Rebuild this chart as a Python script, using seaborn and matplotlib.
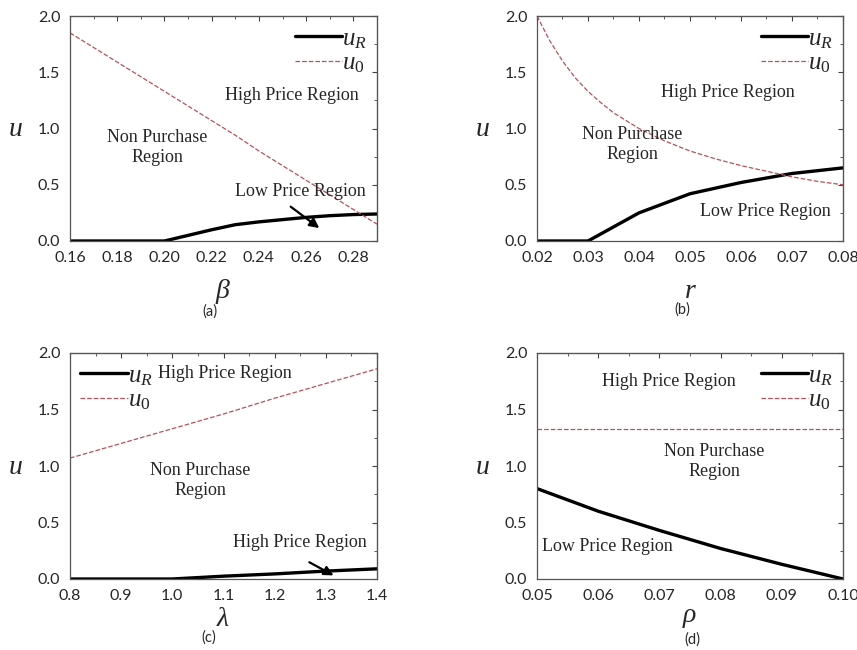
import numpy as np
import seaborn as sns
import matplotlib.pyplot as plt

# panel (a): beta
beta = [0.16, 0.17, 0.18, 0.19, 0.20, 0.21, 0.22, 0.23, 0.24, 0.25, 0.26, 0.27, 0.28, 0.29]
uR_a = [0.0, 0.0, 0.0, 0.0, 0.0, 0.05, 0.10, 0.145, 0.17, 0.19, 0.21, 0.225, 0.235, 0.24]
u0_a = [1.85, 1.72, 1.59, 1.46, 1.33, 1.20, 1.07, 0.94, 0.80, 0.67, 0.54, 0.41, 0.28, 0.15]

# panel (b): r
r = [0.02, 0.03, 0.04, 0.05, 0.06, 0.07, 0.08]
uR_b = [0.0, 0.0, 0.25, 0.42, 0.52, 0.60, 0.65]
r_fine = [0.02, 0.0225, 0.025, 0.0275, 0.03, 0.0325, 0.035, 0.0375, 0.04, 0.045,
          0.05, 0.055, 0.06, 0.065, 0.07, 0.075, 0.08]
u0_b = [2.0, 1.78, 1.6, 1.45, 1.33, 1.23, 1.14, 1.07, 1.0, 0.89,
        0.80, 0.73, 0.67, 0.62, 0.57, 0.53, 0.50]

# panel (c): lambda
lam = [0.8, 0.9, 1.0, 1.1, 1.2, 1.3, 1.4]
uR_c = [0.0, 0.0, 0.0, 0.025, 0.045, 0.07, 0.09]
u0_c = [1.07, 1.20, 1.33, 1.46, 1.60, 1.73, 1.86]

# panel (d): rho
rho = [0.05, 0.06, 0.07, 0.08, 0.09, 0.10]
uR_d = [0.80, 0.60, 0.43, 0.27, 0.13, 0.0]
u0_d = [1.33, 1.33, 1.33, 1.33, 1.33, 1.33]

sns.set_style("white")
plt.rcParams['mathtext.fontset'] = 'custom'
plt.rcParams['mathtext.rm'] = 'Liberation Serif'
plt.rcParams['mathtext.it'] = 'Liberation Serif:italic'
plt.rcParams['font.family'] = ['Lato', 'DejaVu Sans']

red = '#b5525a'
serif = 'Liberation Serif'

fig = plt.figure(figsize=(8.57, 6.5), dpi=100)
W, H = 857, 650
boxes = {
    'a': (70, 16, 377, 241),
    'b': (537, 16, 843, 241),
    'c': (70, 353, 377, 579),
    'd': (537, 353, 843, 579),
}
tags = {'a': (210, 312), 'b': (682, 310), 'c': (209, 638), 'd': (692, 640)}
xlabel_pad = {'a': 9, 'b': 9, 'c': 2, 'd': 1}


def make_ax(key):
    x0, y0, x1, y1 = boxes[key]
    return fig.add_axes([x0 / W, 1 - y1 / H, (x1 - x0) / W, (y1 - y0) / H])


def style(ax, key, xlim, xticks, xlabel, legend_loc):
    ax.set_xlim(*xlim)
    ax.set_ylim(0, 2.0)
    ax.set_xticks(xticks)
    ax.set_yticks([0, 0.5, 1.0, 1.5, 2.0])
    ax.set_yticklabels(['0.0', '0.5', '1.0', '1.5', '2.0'])
    minor = (xticks[1] - xticks[0]) / 2
    ax.xaxis.set_minor_locator(plt.MultipleLocator(minor))
    ax.yaxis.set_minor_locator(plt.MultipleLocator(0.25))
    ax.tick_params(which='both', direction='out', labelsize=11.5, color='#444', pad=3)
    ax.tick_params(which='major', length=4)
    ax.tick_params(which='minor', length=2)
    for s in ax.spines.values():
        s.set_color('#555')
        s.set_linewidth(0.9)
    top = ax.secondary_xaxis('top')
    top.set_xticks(xticks)
    top.xaxis.set_minor_locator(plt.MultipleLocator(minor))
    top.tick_params(which='both', direction='in', labeltop=False, color='#444')
    top.tick_params(which='minor', length=2)
    right = ax.secondary_yaxis('right')
    right.set_yticks([0, 0.5, 1.0, 1.5, 2.0])
    right.yaxis.set_minor_locator(plt.MultipleLocator(0.25))
    right.tick_params(which='both', direction='in', labelright=False, color='#444')
    right.tick_params(which='minor', length=2)
    ax.set_xlabel(xlabel, fontsize=20, labelpad=xlabel_pad[key])
    ax.set_ylabel('$u$', fontsize=20, rotation=0, labelpad=16, va='center')
    tx, ty = tags[key]
    fig.text(tx / W, 1 - ty / H, '(' + key + ')', ha='center', va='center', fontsize=10.5)
    ax.legend(loc=legend_loc, frameon=False, fontsize=18, handlelength=1.9,
              handletextpad=0.0, borderaxespad=0.0, labelspacing=0.0)


def region(ax, x, y, txt):
    ax.text(x, y, txt, ha='center', va='center', fontsize=13, family=serif, linespacing=1.25)


# (a)
ax = make_ax('a')
sns.lineplot(x=beta, y=uR_a, ax=ax, color='black', lw=2.4, label='$u_R$')
sns.lineplot(x=beta, y=u0_a, ax=ax, color=red, lw=0.9, ls='--', label='$u_0$')
style(ax, 'a', (0.16, 0.29), [0.16, 0.18, 0.20, 0.22, 0.24, 0.26, 0.28], r'$\beta$', 'upper right')
region(ax, 0.254, 1.29, 'High Price Region')
region(ax, 0.197, 0.83, 'Non Purchase\nRegion')
region(ax, 0.2575, 0.44, 'Low Price Region')
ax.annotate('', xy=(0.2665, 0.10), xytext=(0.2525, 0.32),
            arrowprops=dict(arrowstyle='-|>', color='black', lw=1.6, mutation_scale=14))

# (b)
ax = make_ax('b')
sns.lineplot(x=r, y=uR_b, ax=ax, color='black', lw=2.4, label='$u_R$')
sns.lineplot(x=r_fine, y=u0_b, ax=ax, color=red, lw=0.9, ls='--', label='$u_0$')
style(ax, 'b', (0.02, 0.08), [0.02, 0.03, 0.04, 0.05, 0.06, 0.07, 0.08], '$r$', 'upper right')
region(ax, 0.0575, 1.32, 'High Price Region')
region(ax, 0.0387, 0.86, 'Non Purchase\nRegion')
region(ax, 0.0647, 0.26, 'Low Price Region')

# (c)
ax = make_ax('c')
sns.lineplot(x=lam, y=uR_c, ax=ax, color='black', lw=2.4, label='$u_R$')
sns.lineplot(x=lam, y=u0_c, ax=ax, color=red, lw=0.9, ls='--', label='$u_0$')
style(ax, 'c', (0.8, 1.4), [0.8, 0.9, 1.0, 1.1, 1.2, 1.3, 1.4], r'$\lambda$', 'upper left')
region(ax, 1.103, 1.82, 'High Price Region')
region(ax, 1.055, 0.87, 'Non Purchase\nRegion')
region(ax, 1.25, 0.32, 'High Price Region')
ax.annotate('', xy=(1.32, 0.02), xytext=(1.263, 0.16),
            arrowprops=dict(arrowstyle='-|>', color='black', lw=1.6, mutation_scale=14))

# (d)
ax = make_ax('d')
sns.lineplot(x=rho, y=uR_d, ax=ax, color='black', lw=2.4, label='$u_R$')
sns.lineplot(x=rho, y=u0_d, ax=ax, color=red, lw=0.9, ls='--', label='$u_0$')
style(ax, 'd', (0.05, 0.10), [0.05, 0.06, 0.07, 0.08, 0.09, 0.10], r'$\rho$', 'upper right')
region(ax, 0.0715, 1.75, 'High Price Region')
region(ax, 0.079, 1.04, 'Non Purchase\nRegion')
region(ax, 0.0615, 0.29, 'Low Price Region')

fig.savefig('out.png', dpi=100)
